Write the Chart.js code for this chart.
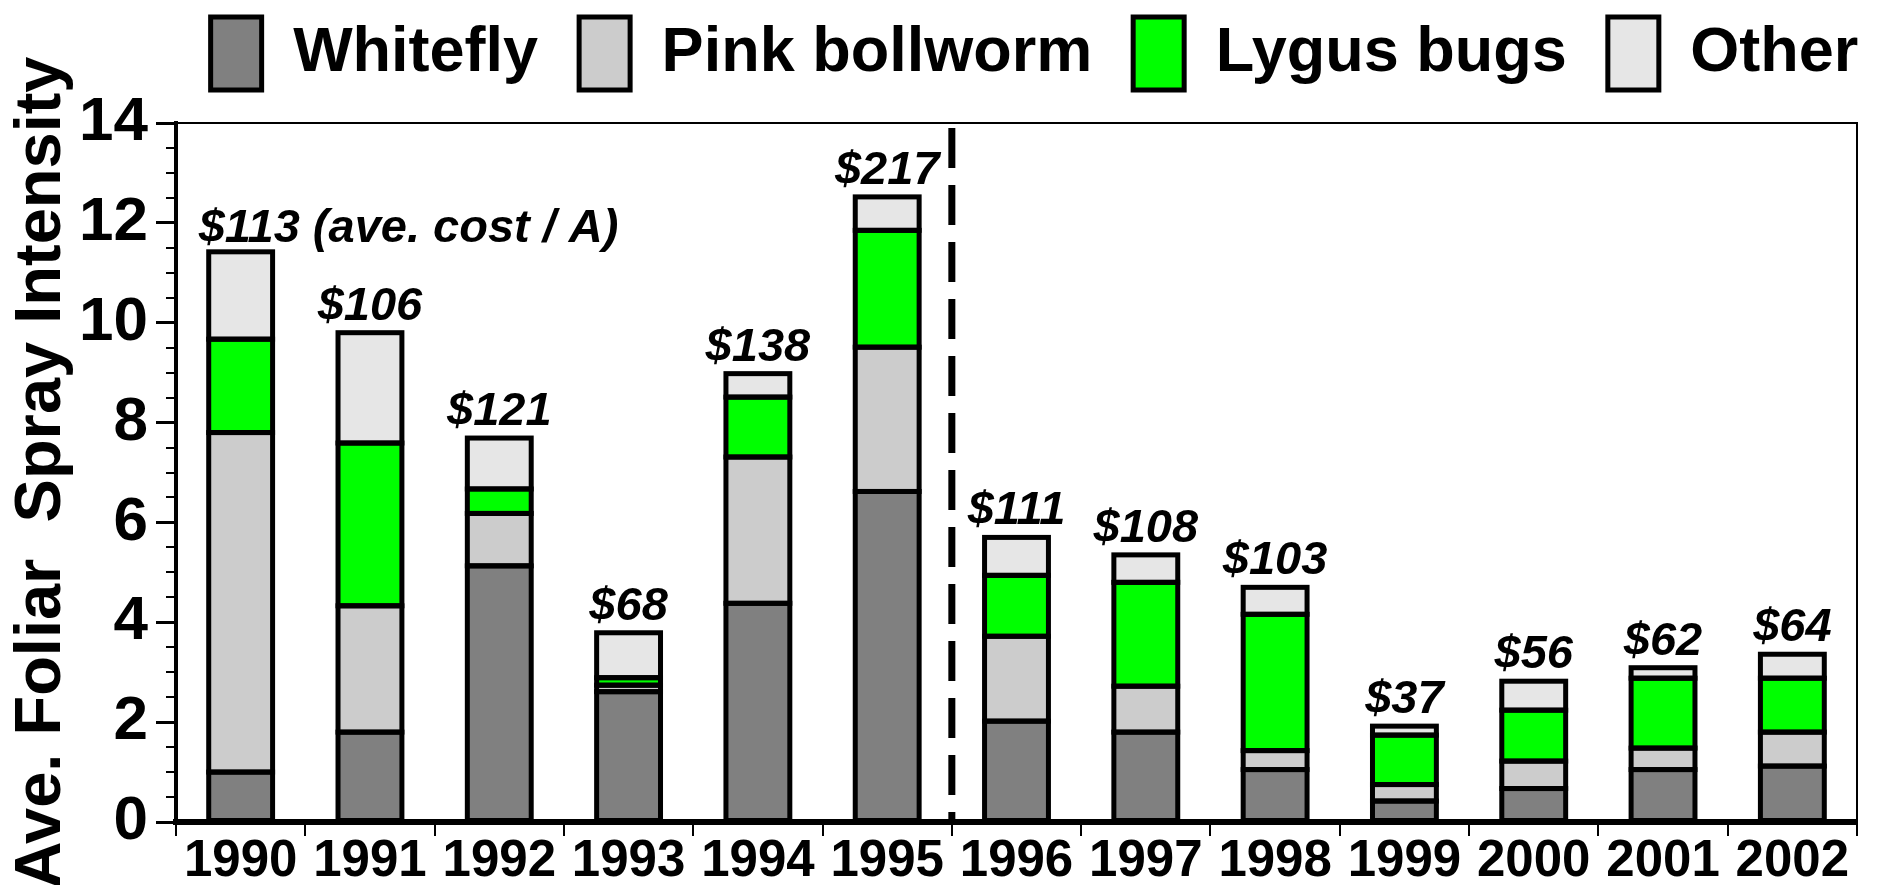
<!DOCTYPE html>
<html>
<head>
<meta charset="utf-8">
<script src="https://cdn.jsdelivr.net/npm/chart.js@4"></script>
<style>
  html, body { margin: 0; padding: 0; background: #fff; }
  #wrap { width: 1879px; height: 885px; }
</style>
</head>
<body>
<div id="wrap"><canvas id="sprayChart" width="1879" height="885"></canvas></div>
<script>
// season, spray counts per pest (stacked), and average cost per acre
const years = ['1990', '1991', '1992', '1993', '1994', '1995', '1996', '1997', '1998', '1999', '2000', '2001', '2002'];
const whitefly = [1.00, 1.80, 5.13, 2.61, 4.38, 6.62, 2.02, 1.80, 1.05, 0.42, 0.67, 1.05, 1.12];
const pinkBollworm = [6.80, 2.53, 1.05, 0.13, 2.93, 2.89, 1.70, 0.92, 0.38, 0.33, 0.55, 0.43, 0.68];
const lygusBugs = [1.87, 3.26, 0.49, 0.15, 1.20, 2.34, 1.22, 2.08, 2.73, 0.99, 1.02, 1.40, 1.08];
const other = [1.75, 2.21, 1.02, 0.90, 0.47, 0.67, 0.76, 0.55, 0.54, 0.18, 0.58, 0.21, 0.48];
const avgCost = [113, 106, 121, 68, 138, 217, 111, 108, 103, 37, 56, 62, 64];
const costNote = '(ave. cost / A)';
const splitAfter = '1995';

const FONT = "'Liberation Sans', Arial, Helvetica, sans-serif";
const OUTLINE = 5;

function makeSet(label, data, color) {
    return {
        label: label,
        data: data,
        backgroundColor: color,
        borderWidth: 0,
        barPercentage: 0.494,
        categoryPercentage: 1
    };
}

// frame on top/right, short half-step ticks on the y axis
const frameAndMarks = {
    id: 'frameAndMarks',
    beforeDatasetsDraw(chart) {
        const { ctx, chartArea: a, scales: { y } } = chart;
        ctx.save();
        ctx.strokeStyle = '#000';
        ctx.lineWidth = 2;
        ctx.beginPath();
        ctx.moveTo(a.left - 1, a.top);
        ctx.lineTo(a.right, a.top);
        ctx.lineTo(a.right, a.bottom);
        ctx.stroke();
        ctx.beginPath();
        y.ticks.forEach(t => {
            if (t.value % 2 === 0) return;
            const py = Math.round(y.getPixelForValue(t.value));
            ctx.moveTo(a.left - 10, py);
            ctx.lineTo(a.left, py);
        });
        ctx.stroke();
        ctx.restore();
    },
    afterDatasetsDraw(chart) {
        const { ctx, chartArea: a, scales: { x } } = chart;
        ctx.save();

        // outline every stacked segment (centred stroke, like the print version)
        ctx.strokeStyle = '#000';
        ctx.lineWidth = OUTLINE;
        chart.data.datasets.forEach((ds, d) => {
            chart.getDatasetMeta(d).data.forEach(bar => {
                ctx.strokeRect(bar.x - bar.width / 2, bar.y, bar.width, bar.base - bar.y);
            });
        });

        // dashed divider between the two periods
        const i = years.indexOf(splitAfter);
        const sx = (x.getPixelForValue(i) + x.getPixelForValue(i + 1)) / 2;
        ctx.lineWidth = 7;
        ctx.setLineDash([40, 17]);
        ctx.beginPath();
        ctx.moveTo(sx, a.top + 5);
        ctx.lineTo(sx, a.bottom);
        ctx.stroke();
        ctx.setLineDash([]);

        // cost labels above each stack
        const topMeta = chart.getDatasetMeta(chart.data.datasets.length - 1);
        ctx.fillStyle = '#000';
        ctx.font = 'italic bold 47px ' + FONT;
        ctx.textBaseline = 'alphabetic';
        topMeta.data.forEach((bar, k) => {
            const txt = '$' + avgCost[k];
            if (k === 0) {
                ctx.textAlign = 'left';
                ctx.fillText(txt + ' ' + costNote, bar.x - bar.width / 2 - 10, bar.y - 10);
            } else {
                ctx.textAlign = 'center';
                ctx.fillText(txt, bar.x, bar.y - 13);
            }
        });
        ctx.restore();
    }
};

// extra room under the legend and a nudge to the right
const legendPlacement = {
    id: 'legendPlacement',
    beforeInit(chart) {
        const fit = chart.legend.fit;
        chart.legend.fit = function () {
            fit.call(this);
            this.height += 23;
        };
    },
    afterLayout(chart) {
        chart.legend.left += 106;
        chart.legend.right += 106;
    }
};

const baseLabels = Chart.defaults.plugins.legend.labels.generateLabels;

new Chart(document.getElementById('sprayChart'), {
    type: 'bar',
    data: {
        labels: years,
        datasets: [
            makeSet('Whitefly', whitefly, '#808080'),
            makeSet('Pink bollworm', pinkBollworm, '#cccccc'),
            makeSet('Lygus bugs', lygusBugs, '#00ff00'),
            makeSet('Other', other, '#e6e6e6')
        ]
    },
    options: {
        responsive: false,
        animation: false,
        devicePixelRatio: 1,
        layout: { padding: { top: -24, right: 22, left: 0, bottom: 0 } },
        plugins: {
            legend: {
                position: 'top',
                labels: {
                    color: '#000',
                    font: { family: FONT, size: 63, weight: 'bold' },
                    boxWidth: 51,
                    boxHeight: 73,
                    padding: 41,
                    generateLabels: chart => baseLabels(chart).map(item => ({
                        ...item,
                        strokeStyle: '#000',
                        lineWidth: OUTLINE
                    }))
                }
            },
            tooltip: { enabled: false }
        },
        scales: {
            x: {
                stacked: true,
                afterFit: s => { s.height = 63; },
                grid: { offset: true, drawOnChartArea: false, tickLength: 14, lineWidth: 2, color: '#000' },
                border: { color: '#000', width: 6 },
                ticks: {
                    color: '#000',
                    font: { family: FONT, size: 51, weight: 'bold', lineHeight: 1 },
                    padding: 0,
                    maxRotation: 0,
                    autoSkip: false
                }
            },
            y: {
                stacked: true,
                min: 0,
                max: 14,
                afterFit: s => { s.width = 176; },
                ticks: {
                    stepSize: 0.5,
                    autoSkip: false,
                    padding: 8,
                    color: '#000',
                    font: { family: FONT, size: 62, weight: 'bold' },
                    callback: v => (v % 2 === 0 ? v : '')
                },
                grid: {
                    drawOnChartArea: false,
                    tickLength: 20,
                    lineWidth: 3,
                    tickColor: c => (c.tick && c.tick.value % 2 === 0 ? '#000' : 'rgba(0,0,0,0)')
                },
                border: { color: '#000', width: 4 },
                title: {
                    display: true,
                    text: 'Ave. Foliar  Spray Intensity',
                    color: '#000',
                    font: { family: FONT, size: 65, weight: 'bold', lineHeight: 1 },
                    padding: { top: 10, bottom: 4 }
                }
            }
        }
    },
    plugins: [frameAndMarks, legendPlacement]
});
</script>
</body>
</html>
